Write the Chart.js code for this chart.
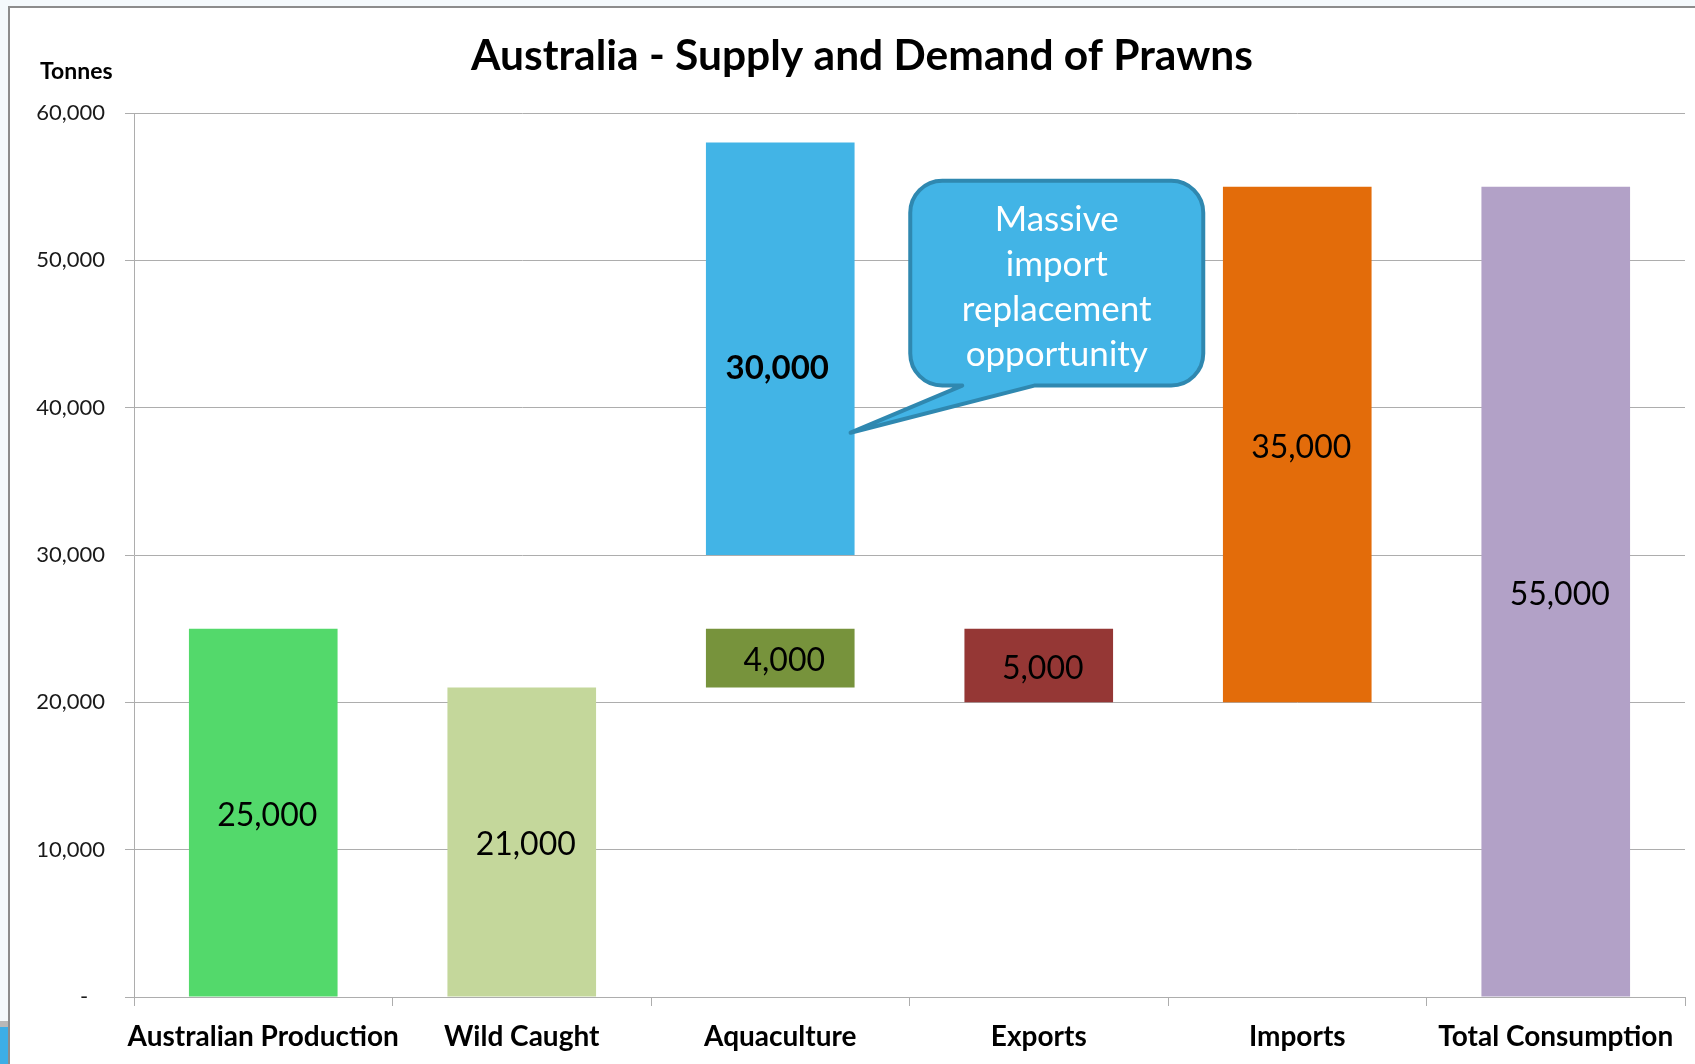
<!DOCTYPE html>
<html lang="en">
<head>
    <meta charset="UTF-8">
    <title>Australia - Supply and Demand of Prawns</title>
    <script src="https://cdn.jsdelivr.net/npm/chart.js@4.4.0/dist/chart.umd.min.js"></script>
    <style>
        body {
            margin: 0;
            background-color: #f4f9fc;
        }
        canvas {
            display: block;
        }
    </style>
</head>
<body>
    <canvas id="prawnsChart" width="1695" height="1064"></canvas>

    <script>
        // Tonnes per year
        const categories = ['Australian Production', 'Wild Caught', 'Aquaculture', 'Exports', 'Imports', 'Total Consumption'];
        const barFrom = [0, 0, 21000, 20000, 20000, 0];
        const barTo = [25000, 21000, 25000, 25000, 55000, 55000];
        // aquaculture growth potential, floated above the current output
        const potentialFrom = [null, null, 30000, null, null, null];
        const potentialTo = [null, null, 58000, null, null, null];
        const calloutLines = ['Massive', 'import', 'replacement', 'opportunity'];

        const barColors = ['#53d96b', '#c4d79b', '#77933c', '#953735', '#e36c0a', '#b2a1c7'];
        const FONT = 'Lato, "Open Sans", sans-serif';
        const GRID = '#adadad';

        const fmt = v => v.toLocaleString('en-US');

        // page frame + title text
        const framePlugin = {
            id: 'frame',
            beforeDraw(chart) {
                const ctx = chart.ctx;
                ctx.save();
                ctx.fillStyle = '#f4f9fc';
                ctx.fillRect(0, 0, chart.width, chart.height);
                ctx.fillStyle = '#ffffff';
                ctx.fillRect(9, 7, chart.width - 9, chart.height - 7);
                ctx.fillStyle = '#b8b8b8';
                ctx.fillRect(0, 1021, 8, 6);
                ctx.fillStyle = '#3daee6';
                ctx.fillRect(0, 1027, 8, chart.height - 1027);
                ctx.strokeStyle = '#8c8c8c';
                ctx.lineWidth = 2;
                ctx.beginPath();
                ctx.moveTo(9, chart.height);
                ctx.lineTo(9, 7);
                ctx.lineTo(chart.width, 7);
                ctx.stroke();

                ctx.fillStyle = '#000';
                ctx.textBaseline = 'alphabetic';
                ctx.textAlign = 'center';
                ctx.font = 'bold 42.5px ' + FONT;
                ctx.fillText('Australia - Supply and Demand of Prawns', 862, 70);
                ctx.textAlign = 'left';
                ctx.font = 'bold 23px ' + FONT;
                ctx.fillText('Tonnes', 40, 79);
                ctx.restore();
            }
        };

        // value labels in the middle of each bar, and the callout
        const labelPlugin = {
            id: 'barLabels',
            afterDatasetsDraw(chart) {
                const ctx = chart.ctx;
                const y = chart.scales.y;
                ctx.save();
                ctx.textAlign = 'center';
                ctx.textBaseline = 'middle';
                ctx.fillStyle = '#000';

                ctx.font = '32px ' + FONT;
                chart.getDatasetMeta(0).data.forEach((bar, i) => {
                    ctx.fillText(fmt(barTo[i] - barFrom[i]), bar.x + 4, (bar.y + bar.base) / 2 + 3);
                });

                ctx.font = 'bold 33px ' + FONT;
                const pot = chart.getDatasetMeta(1).data[2];
                ctx.fillText(fmt(potentialFrom[2]), pot.x - 3, (pot.y + pot.base) / 2 + 20);

                // speech bubble pointing at the potential bar
                const left = pot.x + 130, right = left + 293;
                const top = y.getPixelForValue(55400), bottom = y.getPixelForValue(41500);
                const r = 32;
                const tipX = pot.x + pot.width / 2 - 4, tipY = y.getPixelForValue(38300);
                const baseL = left + 52, baseR = left + 124;
                ctx.beginPath();
                ctx.moveTo(left + r, top);
                ctx.lineTo(right - r, top);
                ctx.arcTo(right, top, right, top + r, r);
                ctx.lineTo(right, bottom - r);
                ctx.arcTo(right, bottom, right - r, bottom, r);
                ctx.lineTo(baseR, bottom);
                ctx.lineTo(tipX, tipY);
                ctx.lineTo(baseL, bottom);
                ctx.lineTo(left + r, bottom);
                ctx.arcTo(left, bottom, left, bottom - r, r);
                ctx.lineTo(left, top + r);
                ctx.arcTo(left, top, left + r, top, r);
                ctx.closePath();
                ctx.fillStyle = '#42b4e6';
                ctx.fill();
                ctx.lineWidth = 4;
                ctx.lineJoin = 'round';
                ctx.strokeStyle = '#2f88b0';
                ctx.stroke();

                ctx.fillStyle = '#ffffff';
                ctx.font = '35px ' + FONT;
                const cx = (left + right) / 2;
                calloutLines.forEach((line, i) => {
                    ctx.fillText(line, cx, top + 39 + i * 45);
                });
                ctx.restore();
            }
        };

        new Chart(document.getElementById('prawnsChart'), {
            type: 'bar',
            data: {
                labels: categories,
                datasets: [{
                    label: 'Supply and demand',
                    data: categories.map((c, i) => [barFrom[i], barTo[i]]),
                    backgroundColor: barColors,
                    grouped: false,
                    categoryPercentage: 1,
                    barPercentage: 0.575
                }, {
                    label: 'Aquaculture potential',
                    data: categories.map((c, i) => potentialFrom[i] == null ? null : [potentialFrom[i], potentialTo[i]]),
                    backgroundColor: '#42b4e6',
                    grouped: false,
                    categoryPercentage: 1,
                    barPercentage: 0.575
                }]
            },
            options: {
                responsive: false,
                animation: false,
                devicePixelRatio: 1,
                layout: { padding: { top: 113, right: 10, left: 0, bottom: 0 } },
                plugins: {
                    legend: { display: false },
                    tooltip: { enabled: false },
                    title: { display: false }
                },
                scales: {
                    x: {
                        afterFit(scale) {
                            scale.height = 67;
                            scale.paddingLeft = 0;
                            scale.paddingRight = 0;
                        },
                        grid: { offset: true, drawOnChartArea: false, tickLength: 9, color: GRID },
                        border: { color: GRID },
                        ticks: {
                            color: '#000',
                            padding: 14,
                            autoSkip: false,
                            minRotation: 0,
                            maxRotation: 0,
                            font: { family: FONT, size: 28, weight: 'bold' }
                        }
                    },
                    y: {
                        min: 0,
                        max: 60000,
                        afterFit(scale) { scale.width = 134; },
                        grid: { color: GRID, tickLength: 9 },
                        border: { color: GRID },
                        ticks: {
                            stepSize: 10000,
                            padding: 20,
                            color: '#1a1a1a',
                            font: { family: FONT, size: 22 },
                            callback: v => v === 0 ? '-   ' : fmt(v)
                        }
                    }
                }
            },
            plugins: [framePlugin, labelPlugin]
        });
    </script>
</body>
</html>
